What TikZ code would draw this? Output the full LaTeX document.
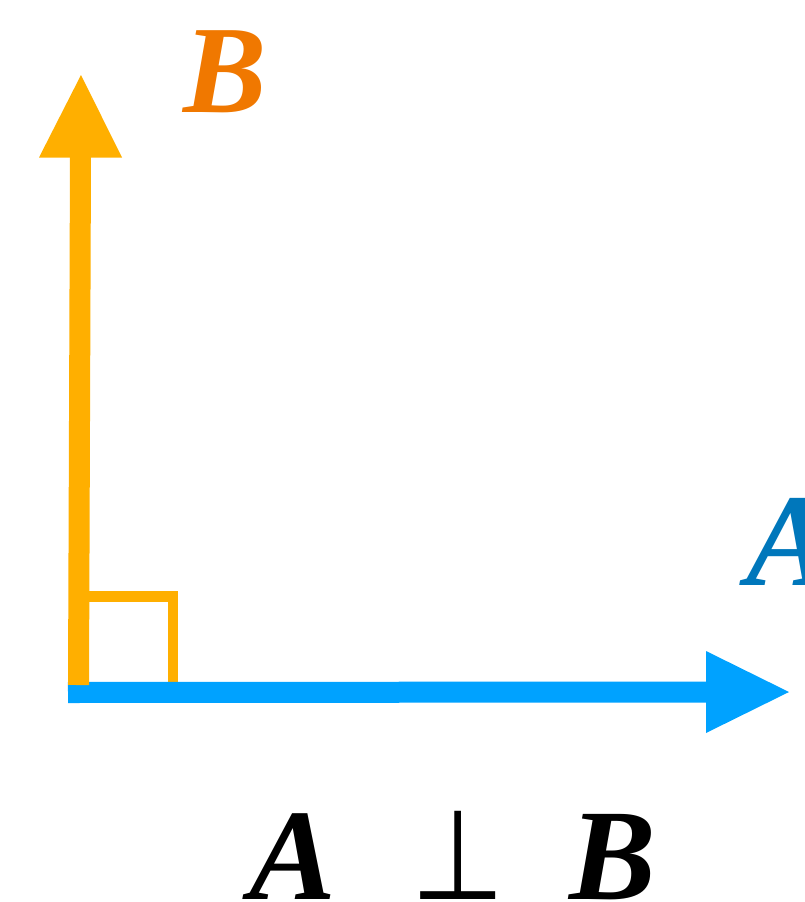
\documentclass[tikz,border=0pt]{standalone}
\usepackage{fontspec}
\setmainfont{Liberation Serif}
\newfontfamily\symfont{DejaVu Sans}
\definecolor{arrowOrange}{HTML}{FFAF00}
\definecolor{arrowBlue}{HTML}{00A2FF}
\definecolor{labelOrange}{HTML}{F07800}
\definecolor{labelBlue}{HTML}{0077BB}
\begin{document}
\begin{tikzpicture}[x=1pt,y=-1pt,
  shaft/.style={line width=21pt},
  lbl/.style={inner sep=0pt,anchor=base,font=\bfseries\itshape}]
\useasboundingbox (0,0) rectangle (805,902);
% coordinates
\coordinate (ob) at (78.5,685);
\coordinate (ot) at (80.5,157);
\coordinate (bl) at (68,692.5);
\coordinate (br) at (707,692);
\coordinate (sq1) at (89,596.5);
\coordinate (sq2) at (173,596.5);
\coordinate (sq3) at (173,683);
% right angle mark
\draw[arrowOrange,line width=10.5pt] (sq1) -- (sq2) -- (sq3);
% blue arrow
\draw[arrowBlue,shaft] (bl) -- (br);
\fill[arrowBlue] (706,651) -- (789,692) -- (706,733) -- cycle;
% orange arrow
\draw[arrowOrange,shaft] (ob) -- (ot);
\fill[arrowOrange] (39,157.5) -- (81,75) -- (122,157.5) -- cycle;
% labels
\node[lbl,text=labelOrange,font=\fontsize{125}{125}\selectfont\bfseries\itshape] (lB) at (225,112) {B};
\node[lbl,text=labelBlue,font=\fontsize{132}{132}\selectfont\bfseries\itshape] (lA) at (791,585) {A};
\node[lbl,font=\fontsize{130}{130}\selectfont\bfseries\itshape] (eA) at (293,899) {A};
\node[lbl,font=\fontsize{126}{126}\selectfont\symfont] (eP) at (458,899) {\scalebox{0.85}[1]{⊥}};
\node[lbl,font=\fontsize{130}{130}\selectfont\bfseries\itshape] (eB) at (613,899) {B};
\end{tikzpicture}
\end{document}
